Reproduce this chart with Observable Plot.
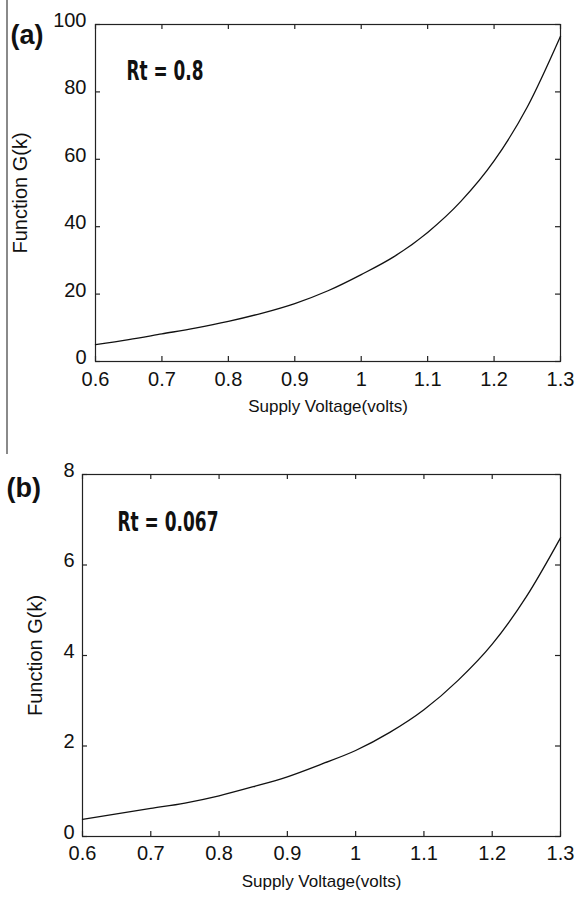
<!DOCTYPE html>
<html>
<head>
<meta charset="utf-8">
<script src="https://cdn.jsdelivr.net/npm/d3@7"></script>
<script src="https://cdn.jsdelivr.net/npm/@observablehq/plot@0.6"></script>
<style>
  html, body { margin: 0; padding: 0; background: #fff; }
  #page { position: relative; width: 576px; height: 899px; overflow: hidden; background: #fff; }
  #page > div.panel { position: absolute; left: 0; }
  #vline { position: absolute; left: 6px; top: 0; width: 2px; height: 454px; background: #8a8a8a; z-index: 5; }
</style>
</head>
<body>
<div id="page">
  <div class="panel" id="pa" style="top:0px"></div>
  <div class="panel" id="pb" style="top:449px"></div>
  <div id="vline"></div>
</div>
<script>
// ---- data ----
const voltage = [0.6, 0.65, 0.7, 0.75, 0.8, 0.85, 0.9, 0.95, 1.0, 1.05, 1.1, 1.15, 1.2, 1.25, 1.3];
const gA = [5.0, 6.5, 8.2, 9.9, 11.9, 14.3, 17.2, 21.0, 25.8, 31.2, 38.3, 47.5, 59.5, 75.5, 96.5];
const gB = [0.38, 0.5, 0.62, 0.74, 0.9, 1.1, 1.32, 1.6, 1.9, 2.3, 2.8, 3.45, 4.25, 5.3, 6.6];
const xTicks = [0.6, 0.7, 0.8, 0.9, 1.0, 1.1, 1.2, 1.3];
const xTickLabels = ["0.6", "0.7", "0.8", "0.9", "1", "1.1", "1.2", "1.3"];
const yTicksA = [0, 20, 40, 60, 80, 100];
const yTicksB = [0, 2, 4, 6, 8];
const xLabel = "Supply Voltage(volts)";
const yLabel = "Function G(k)";
const panelTags = ["(a)", "(b)"];
const rtLabels = ["Rt = 0.8", "Rt = 0.067"];

const font = "'Liberation Sans', Arial, sans-serif";
const narrow = "'Liberation Sans Narrow', 'DejaVu Sans Condensed', 'DejaVu Sans', sans-serif";

function panel(opts) {
  const {width, height, mt, mb, ml, mr, yDomain, yTicks, values, tag, rt, tagDx, tagDy, rtDx, rtDy, rtLen, yLabDx, yTickPad, xTickDy} = opts;
  const innerW = width - ml - mr;
  const innerH = height - mt - mb;
  const data = voltage.map((v, i) => ({v, g: values[i]}));
  const tl = 5;
  const svg = Plot.plot({
    width, height,
    marginTop: mt, marginBottom: mb, marginLeft: ml, marginRight: mr,
    style: {fontFamily: font, fontSize: "18px", color: "#000", background: "#fff", overflow: "visible"},
    x: {domain: [0.6, 1.3], axis: null},
    y: {domain: yDomain, axis: null},
    marks: [
      Plot.frame({stroke: "#222", strokeWidth: 1.2}),
      // inward ticks on all four sides
      Plot.tickX(xTicks, {x: d => d, insetTop: innerH - tl, stroke: "#222", strokeWidth: 1.2}),
      Plot.tickX(xTicks, {x: d => d, insetBottom: innerH - tl, stroke: "#222", strokeWidth: 1.2}),
      Plot.tickY(yTicks, {y: d => d, insetRight: innerW - tl, stroke: "#222", strokeWidth: 1.2}),
      Plot.tickY(yTicks, {y: d => d, insetLeft: innerW - tl, stroke: "#222", strokeWidth: 1.2}),
      // tick labels
      Plot.text(xTicks, {x: d => d, text: (d, i) => xTickLabels[i], frameAnchor: "bottom", textAnchor: "middle", dy: xTickDy, fontSize: 20, fill: "#111"}),
      Plot.text(yTicks, {y: d => d, text: d => String(d), frameAnchor: "left", textAnchor: "end", dx: -yTickPad, dy: -4, fontSize: 20, fill: "#111"}),
      Plot.line(data, {x: "v", y: "g", stroke: "#111", strokeWidth: 1.3, curve: "monotone-x"}),
      Plot.text([xLabel], {frameAnchor: "bottom", textAnchor: "middle", dy: 50, fontSize: 17, fill: "#111"}),
      Plot.text([yLabel], {frameAnchor: "left", textAnchor: "middle", dx: yLabDx, rotate: -90, fontSize: 20, fill: "#111"}),
      Plot.text([tag], {frameAnchor: "top-left", textAnchor: "start", dx: tagDx, dy: tagDy, fontSize: 27, fontWeight: "bold", fill: "#111"}),
      Plot.text([rt], {frameAnchor: "top-left", textAnchor: "start", dx: rtDx, dy: rtDy, fontSize: 27, fontWeight: "bold", fontFamily: narrow, fill: "#111", className: "rtlabel"})
    ]
  });
  // squeeze the condensed annotation to its width in the reference
  svg.querySelectorAll(".rtlabel text").forEach(t => {
    t.setAttribute("textLength", rtLen);
    t.setAttribute("lengthAdjust", "spacingAndGlyphs");
  });
  return svg;
}

document.getElementById("pa").appendChild(panel({
  width: 576, height: 449, mt: 24, mb: 88, ml: 95, mr: 16,
  yDomain: [0, 100], yTicks: yTicksA, values: gA,
  tag: panelTags[0], rt: rtLabels[0],
  tagDx: -85, tagDy: 0, rtDx: 31, rtDy: 36, rtLen: 77, yLabDx: -75, yTickPad: 9, xTickDy: 24
}));
document.getElementById("pb").appendChild(panel({
  width: 576, height: 450, mt: 25, mb: 63, ml: 82, mr: 16,
  yDomain: [0, 8], yTicks: yTicksB, values: gB,
  tag: panelTags[1], rt: rtLabels[1],
  tagDx: -76, tagDy: 3, rtDx: 35, rtDy: 37, rtLen: 101, yLabDx: -47, yTickPad: 8, xTickDy: 23
}));
</script>
</body>
</html>
